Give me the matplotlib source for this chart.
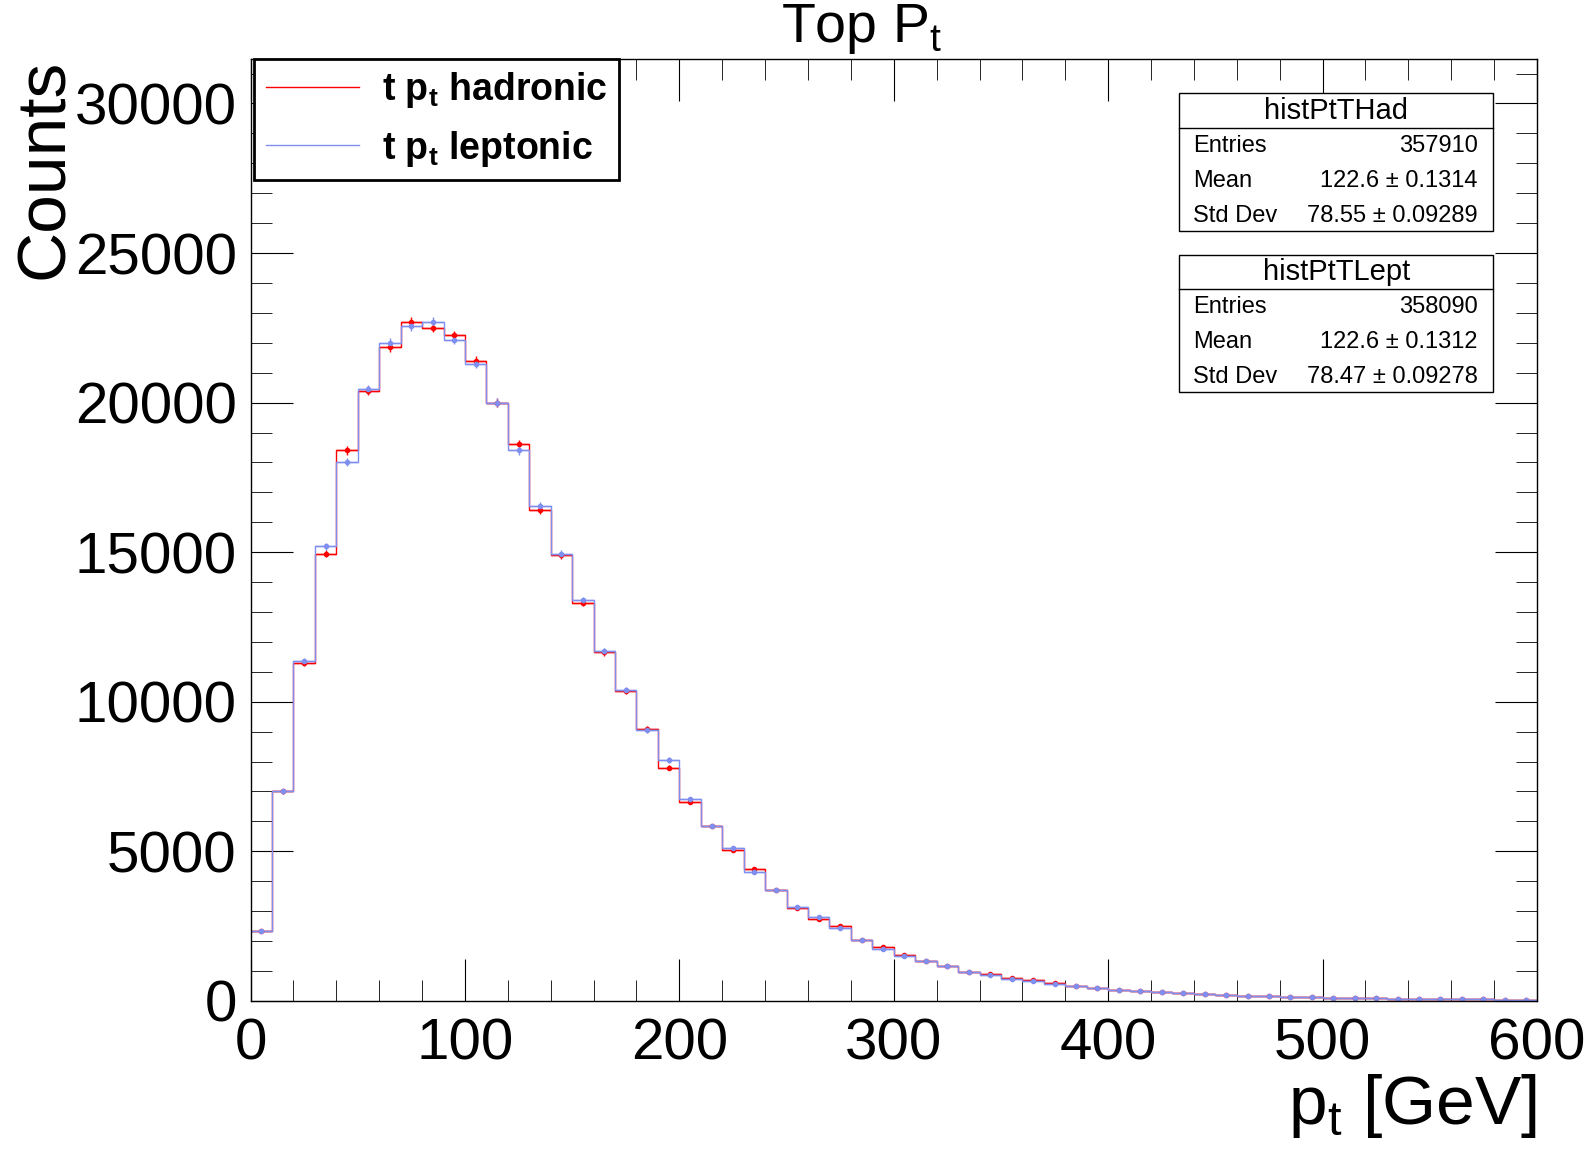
import numpy as np
import matplotlib
matplotlib.use("Agg")
import matplotlib.pyplot as plt
from matplotlib.ticker import MultipleLocator

plt.rcParams['font.family'] = ['Liberation Sans', 'DejaVu Sans']
plt.rcParams['mathtext.fontset'] = 'custom'
plt.rcParams['mathtext.rm'] = 'Liberation Sans'
plt.rcParams['mathtext.bf'] = 'Liberation Sans:bold'

bin_edges = np.arange(0, 610, 10)
had = [2350, 7000, 11300, 14950, 18400, 20400, 21850, 22700, 22500, 22250,
       21400, 20000, 18600, 16400, 14900, 13300, 11650, 10350, 9100, 7800,
       6650, 5850, 5050, 4400, 3700, 3100, 2750, 2500, 2050, 1800,
       1550, 1350, 1150, 950, 900, 750, 700, 600, 500, 420,
       380, 330, 300, 260, 230, 210, 180, 160, 140, 120,
       110, 100, 85, 75, 70, 60, 55, 50, 45, 40]
lep = [2350, 7000, 11350, 15200, 18000, 20450, 22000, 22550, 22700, 22100,
       21300, 20000, 18400, 16550, 14950, 13400, 11700, 10400, 9050, 8050,
       6750, 5850, 5100, 4300, 3700, 3150, 2800, 2450, 2050, 1750,
       1500, 1350, 1150, 950, 880, 720, 680, 580, 490, 430,
       370, 320, 290, 260, 230, 200, 180, 160, 140, 125,
       110, 95, 85, 75, 68, 60, 55, 50, 45, 40]
labels = [r"t p$_\mathbf{t}$ hadronic", r"t p$_\mathbf{t}$ leptonic"]
colors = ["#ff0000", "#7f8fef"]

fig = plt.figure(figsize=(15.96, 11.72), dpi=100)
ax = fig.add_axes([0.157, 0.146, 0.806, 0.804])
centers = (bin_edges[:-1] + bin_edges[1:]) / 2
handles = []
for vals, c, lab in zip([had, lep], colors, labels):
    v = np.array(vals, float)
    h, = ax.step(bin_edges, np.append(v, v[-1]), where="post", color=c, lw=1, label=lab)
    ax.errorbar(centers, v, yerr=np.sqrt(v), xerr=5, fmt="o", ms=3, color=c, elinewidth=1, capsize=0)
    handles.append(h)

ax.set_xlim(0, 600)
ax.set_ylim(0, 31500)
ax.xaxis.set_major_locator(MultipleLocator(100))
ax.xaxis.set_minor_locator(MultipleLocator(20))
ax.yaxis.set_major_locator(MultipleLocator(5000))
ax.yaxis.set_minor_locator(MultipleLocator(1000))
ax.tick_params(which="both", direction="in", top=True, right=True, labelsize=42)
ax.tick_params(which="major", length=30)
ax.tick_params(which="minor", length=15)
ax.tick_params(axis="x", pad=12)
ax.tick_params(axis="y", pad=10)
for s in ax.spines.values():
    s.set_linewidth(1)

fig.text(0.54, 0.975, r"Top P$_\mathregular{t}$", fontsize=40, ha="center", va="center")
ax.set_xlabel(r"p$_\mathregular{t}$ [GeV]", fontsize=50, loc="right", labelpad=0)
ax.set_ylabel("Counts", fontsize=50, loc="top", labelpad=-2)

leg = ax.legend(handles=handles, loc="upper left", bbox_to_anchor=(0.003, 1.0),
                prop={"size": 27, "weight": "bold"}, fancybox=False,
                edgecolor="black", framealpha=1, borderaxespad=0, handlelength=2.5,
                borderpad=0.3, handletextpad=0.6)
leg.get_frame().set_linewidth(2)

def statbox(y0, name, ent, mean, std):
    x0, x1 = 0.722, 0.966
    h = 0.146
    ax.add_patch(plt.Rectangle((x0, y0 - h), x1 - x0, h, transform=ax.transAxes,
                               fill=True, fc="white", ec="black", lw=1, zorder=5))
    ax.plot([x0, x1], [y0 - 0.037] * 2, transform=ax.transAxes, color="black", lw=1, zorder=6)
    ax.text((x0 + x1) / 2, y0 - 0.019, name, transform=ax.transAxes, ha="center", va="center", fontsize=21, zorder=7)
    rows = [("Entries", ent), ("Mean", mean), ("Std Dev", std)]
    for i, (k, v) in enumerate(rows):
        yy = y0 - 0.056 - i * 0.037
        ax.text(x0 + 0.011, yy, k, transform=ax.transAxes, va="center", fontsize=17, zorder=7)
        ax.text(x1 - 0.012, yy, v, transform=ax.transAxes, va="center", ha="right", fontsize=17, zorder=7)

statbox(0.963, "histPtTHad", "357910", "122.6 ± 0.1314", "78.55 ± 0.09289")
statbox(0.792, "histPtTLept", "358090", "122.6 ± 0.1312", "78.47 ± 0.09278")

fig.savefig("out.png", dpi=100)
